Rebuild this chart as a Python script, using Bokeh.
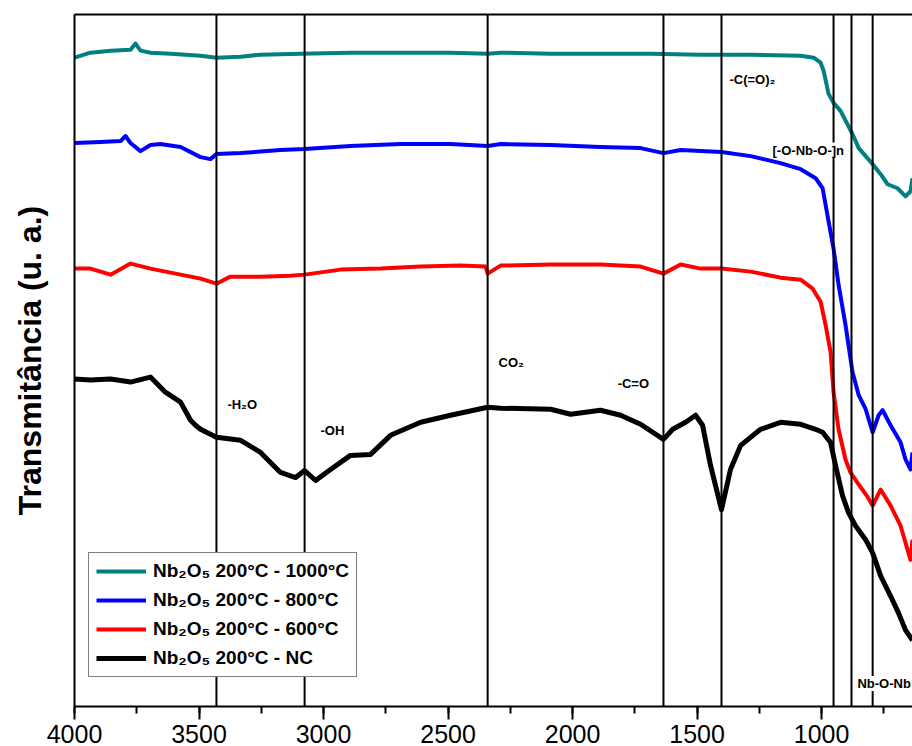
from bokeh.plotting import figure
from bokeh.models import Range1d, LinearAxis, FixedTicker, SingleIntervalTicker, Label
from bokeh.embed import file_html
from bokeh.resources import INLINE

# ---- data (wavenumber in cm-1, transmittance in arbitrary units) ----
wn_1000 = [4000, 3936, 3855, 3775, 3755, 3735, 3695, 3614, 3494, 3430, 3333, 3253, 3092, 2892,
           2691, 2490, 2341, 2289, 2088, 1888, 1687, 1486, 1285, 1084, 1032, 1004, 992, 972,
           952, 924, 876, 851, 795, 763, 735, 695, 663, 643, 635]
t_1000 = [646, 651, 653, 654, 660, 653, 651, 650, 648, 646, 647, 649, 650, 651,
          651, 651, 650, 651, 650, 650, 650, 649, 649, 648, 646, 641, 633, 610,
          601, 593, 570, 556, 540, 530, 520, 516, 508, 513, 526]

wn_800 = [4000, 3896, 3815, 3795, 3775, 3735, 3695, 3655, 3574, 3494, 3454, 3430, 3333, 3173,
          3076, 2892, 2691, 2490, 2341, 2289, 2088, 1888, 1727, 1635, 1566, 1486, 1402, 1285,
          1165, 1084, 1024, 996, 972, 952, 932, 904, 876, 851, 823, 795, 771, 755, 723,
          683, 663, 643, 635]
t_800 = [561, 562, 563, 568, 561, 553, 559, 560, 557, 547, 545, 550, 551, 554,
         555, 558, 560, 560, 558, 560, 559, 557, 556, 551, 554, 553, 552, 548,
         541, 535, 526, 516, 483, 456, 420, 380, 333, 310, 296, 273, 290, 295, 280,
         263, 246, 236, 253]

wn_600 = [4000, 3936, 3855, 3775, 3695, 3574, 3494, 3430, 3374, 3253, 3133, 3076, 2932, 2771,
          2610, 2450, 2349, 2341, 2289, 2088, 1888, 1727, 1635, 1566, 1486, 1402, 1285, 1165,
          1084, 1036, 1004, 984, 964, 952, 932, 904, 884, 851, 819, 795, 763, 723,
          683, 663, 643, 635]
t_600 = [436, 436, 430, 441, 436, 430, 426, 421, 428, 428, 429, 430, 435, 436,
         438, 439, 438, 431, 439, 440, 440, 438, 431, 440, 436, 436, 433, 427,
         425, 416, 403, 380, 353, 313, 276, 246, 233, 221, 210, 200, 216, 200,
         180, 163, 146, 166]

wn_nc = [4000, 3936, 3855, 3775, 3695, 3635, 3574, 3534, 3514, 3494, 3430, 3333, 3253, 3173,
         3112, 3076, 3032, 2972, 2892, 2811, 2731, 2610, 2490, 2341, 2289, 2088, 2008, 1888,
         1807, 1727, 1635, 1598, 1546, 1506, 1478, 1446, 1402, 1366, 1325, 1245, 1165, 1084,
         1024, 996, 964, 944, 916, 892, 864, 823, 795, 763, 723, 691, 663, 635]
t_nc = [326, 325, 326, 323, 328, 313, 303, 285, 280, 276, 268, 265, 253, 233,
        228, 235, 225, 236, 250, 251, 270, 283, 290, 298, 297, 296, 291, 295,
        290, 281, 266, 276, 283, 290, 280, 240, 196, 236, 260, 276, 283, 281,
        276, 273, 263, 240, 210, 193, 180, 166, 153, 130, 110, 93, 76, 66]

series_labels = ["Nb\u2082O\u2085 200\u00b0C - 1000\u00b0C", "Nb\u2082O\u2085 200\u00b0C - 800\u00b0C",
                 "Nb\u2082O\u2085 200\u00b0C - 600\u00b0C", "Nb\u2082O\u2085 200\u00b0C - NC"]
series_colors = ["#008080", "#0000FF", "#FF0000", "#000000"]

band_positions = [3430, 3076, 2341, 1635, 1402, 952, 880, 795]

ann_texts = ["-H\u2082O", "-OH", "CO\u2082", "-C=O", "-C(=O)\u2082", "[-O-Nb-O-]n", "Nb-O-Nb"]
ann_x = [3386, 3012, 2297, 1819, 1370, 1197, 856]
ann_y = [301, 275, 343, 322, 624, 554, 23]
ann_boxed = [False, False, False, False, False, True, True]

y_top = 689

FONT = "Liberation Sans"

p = figure(width=912, height=746, output_backend="svg", toolbar_location=None,
           x_range=Range1d(4000, 635), y_range=Range1d(0, y_top),
           min_border_left=74, min_border_right=0, min_border_top=14, min_border_bottom=40,
           x_axis_location=None, y_axis_location=None)
p.outline_line_color = None
p.xgrid.visible = False
p.ygrid.visible = False
p.background_fill_color = "white"
p.border_fill_color = "white"

# bottom axis
xa = LinearAxis(ticker=SingleIntervalTicker(interval=500, num_minor_ticks=2))
xa.axis_line_width = 2
xa.major_tick_line_width = 2
xa.minor_tick_line_width = 2
xa.major_tick_in = 0
xa.major_tick_out = 13
xa.minor_tick_in = 0
xa.minor_tick_out = 7
xa.major_label_text_font = FONT
xa.major_label_text_font_size = "25px"
xa.major_label_text_color = "black"
xa.major_label_standoff = 5
p.add_layout(xa, "below")

# top border
ta = LinearAxis(ticker=FixedTicker(ticks=[]))
ta.axis_line_width = 2
ta.major_tick_line_color = None
ta.minor_tick_line_color = None
ta.major_label_text_font_size = "0px"
p.add_layout(ta, "above")

# left axis
ya = LinearAxis(ticker=FixedTicker(ticks=[]))
ya.axis_line_width = 2
ya.major_tick_line_color = None
ya.minor_tick_line_color = None
ya.major_label_text_font_size = "0px"
ya.axis_label = "Transmit\u00e2ncia (u. a.)"
ya.axis_label_text_font = FONT
ya.axis_label_text_font_style = "bold"
ya.axis_label_text_font_size = "32px"
ya.axis_label_text_color = "black"
ya.axis_label_standoff = 27
p.add_layout(ya, "left")

all_wn = [wn_1000, wn_800, wn_600, wn_nc]
all_t = [t_1000, t_800, t_600, t_nc]
widths = [4, 4, 4, 5]
for wn, t, lab, col, w in zip(all_wn, all_t, series_labels, series_colors, widths):
    p.line(wn, t, line_color=col, line_width=w, line_join="round", legend_label=lab)

p.segment(x0=band_positions, y0=[0] * len(band_positions), x1=band_positions,
          y1=[y_top] * len(band_positions), line_color="black", line_width=2)

for txt, x, y, boxed in zip(ann_texts, ann_x, ann_y, ann_boxed):
    lbl = Label(x=x, y=y, text=txt, text_font=FONT, text_font_size="13px",
                text_font_style="bold", text_color="black",
                text_baseline="middle", text_align="left")
    if boxed:
        lbl.background_fill_color = "white"
    p.add_layout(lbl)

lg = p.legend[0]
lg.location = (14, 29)
lg.label_text_font = FONT
lg.label_text_font_size = "19px"
lg.label_text_font_style = "bold"
lg.label_text_color = "black"
lg.glyph_width = 50
lg.glyph_height = 22
lg.label_height = 22
lg.spacing = 7
lg.padding = 7
lg.margin = 0
lg.label_standoff = 7
lg.border_line_color = "black"
lg.border_line_width = 1
lg.background_fill_color = "white"
lg.background_fill_alpha = 1.0

open("out.html", "w").write(file_html(p, INLINE))
